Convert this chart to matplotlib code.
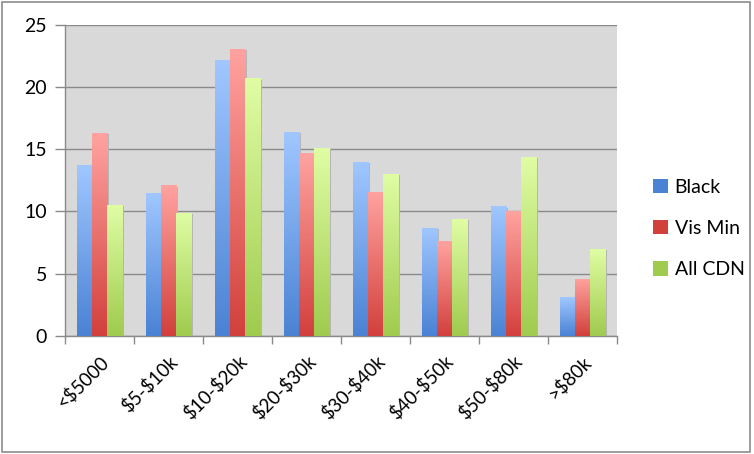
import numpy as np
import matplotlib
matplotlib.use('Agg')
import matplotlib.pyplot as plt
import matplotlib.transforms as mtransforms
from matplotlib.colors import LinearSegmentedColormap
from matplotlib.patches import Rectangle, Patch

plt.rcParams['font.family'] = ['Lato', 'DejaVu Sans']

# Data
categories = ['<$5000', '$5-$10k', '$10-$20k', '$20-$30k', '$30-$40k', '$40-$50k', '$50-$80k', '>$80k']
black = [13.7, 11.5, 22.2, 16.4, 14.0, 8.7, 10.4, 3.1]
vis_min = [16.3, 12.1, 23.1, 14.7, 11.6, 7.6, 10.0, 4.6]
all_cdn = [10.5, 9.9, 20.7, 15.1, 13.0, 9.4, 14.4, 7.0]

series = [('Black', black, '#a0c7ff', '#4a82d4'),
          ('Vis Min', vis_min, '#ffa3a0', '#d2403c'),
          ('All CDN', all_cdn, '#e0fda4', '#9fcb4e')]

fig = plt.figure(figsize=(7.54, 4.54), dpi=100)
ax = fig.add_axes([0.0862, 0.2606, 0.7320, 0.6843])
ax.set_facecolor('#d9d9d9')

# outer chart border
fig.patches.append(Rectangle((0.003, 0.004), 0.992, 0.991, transform=fig.transFigure,
                             fill=False, edgecolor='#8c8c8c', linewidth=1.2))

x = np.arange(len(categories))
width = 0.22
gradient = np.linspace(0, 1, 256).reshape(-1, 1)

handles = []
for i, (name, vals, top_c, bot_c) in enumerate(series):
    cmap = LinearSegmentedColormap.from_list(name, [bot_c, top_c])
    pos = x + (i - 1) * width
    bars = ax.bar(pos, vals, width, color=bot_c, zorder=3)
    for b in bars:
        bx, by = b.get_x(), b.get_y()
        bw, bh = b.get_width(), b.get_height()
        # soft shadow on the right
        ax.add_patch(Rectangle((bx + 0.03, by), bw, bh - 0.1, color='#b5b5b5', zorder=2, linewidth=0))
        im = ax.imshow(gradient, extent=[bx, bx + bw, by, by + bh], cmap=cmap,
                       aspect='auto', origin='lower', zorder=3.5)
        im.set_clip_path(b)
    handles.append(Patch(facecolor=bot_c, edgecolor='none', label=name))

ax.set_xlim(-0.5, len(categories) - 0.5)
ax.set_ylim(0, 25)
ax.set_yticks([0, 5, 10, 15, 20, 25])
ax.yaxis.grid(True, color='#8a8a8a', linewidth=1.0, zorder=1)
ax.set_axisbelow(True)

ax.set_xticks(x)
labels = ax.set_xticklabels(categories, rotation=45, ha='right', va='top', rotation_mode='anchor',
                            fontsize=13.5, parse_math=False)
shift = mtransforms.ScaledTranslation(-5 / 100, 0, fig.dpi_scale_trans)
for lab in labels:
    lab.set_transform(lab.get_transform() + shift)
ax.set_xticks(np.arange(len(categories) + 1) - 0.5, minor=True)
ax.tick_params(axis='x', which='major', length=0, pad=12)
ax.tick_params(axis='x', which='minor', length=6, color='#8a8a8a', width=1)
ax.tick_params(axis='y', length=7, color='#8a8a8a', width=1, labelsize=14, pad=6)

for s in ['top', 'right']:
    ax.spines[s].set_visible(False)
for s in ['left', 'bottom']:
    ax.spines[s].set_color('#8a8a8a')
    ax.spines[s].set_linewidth(1)

leg = fig.legend(handles=handles, loc='center left', bbox_to_anchor=(0.843, 0.497),
                 frameon=False, fontsize=14, handlelength=0.75, handleheight=0.75,
                 handletextpad=0.35, labelspacing=1.25)

fig.savefig('out.png', dpi=100)
